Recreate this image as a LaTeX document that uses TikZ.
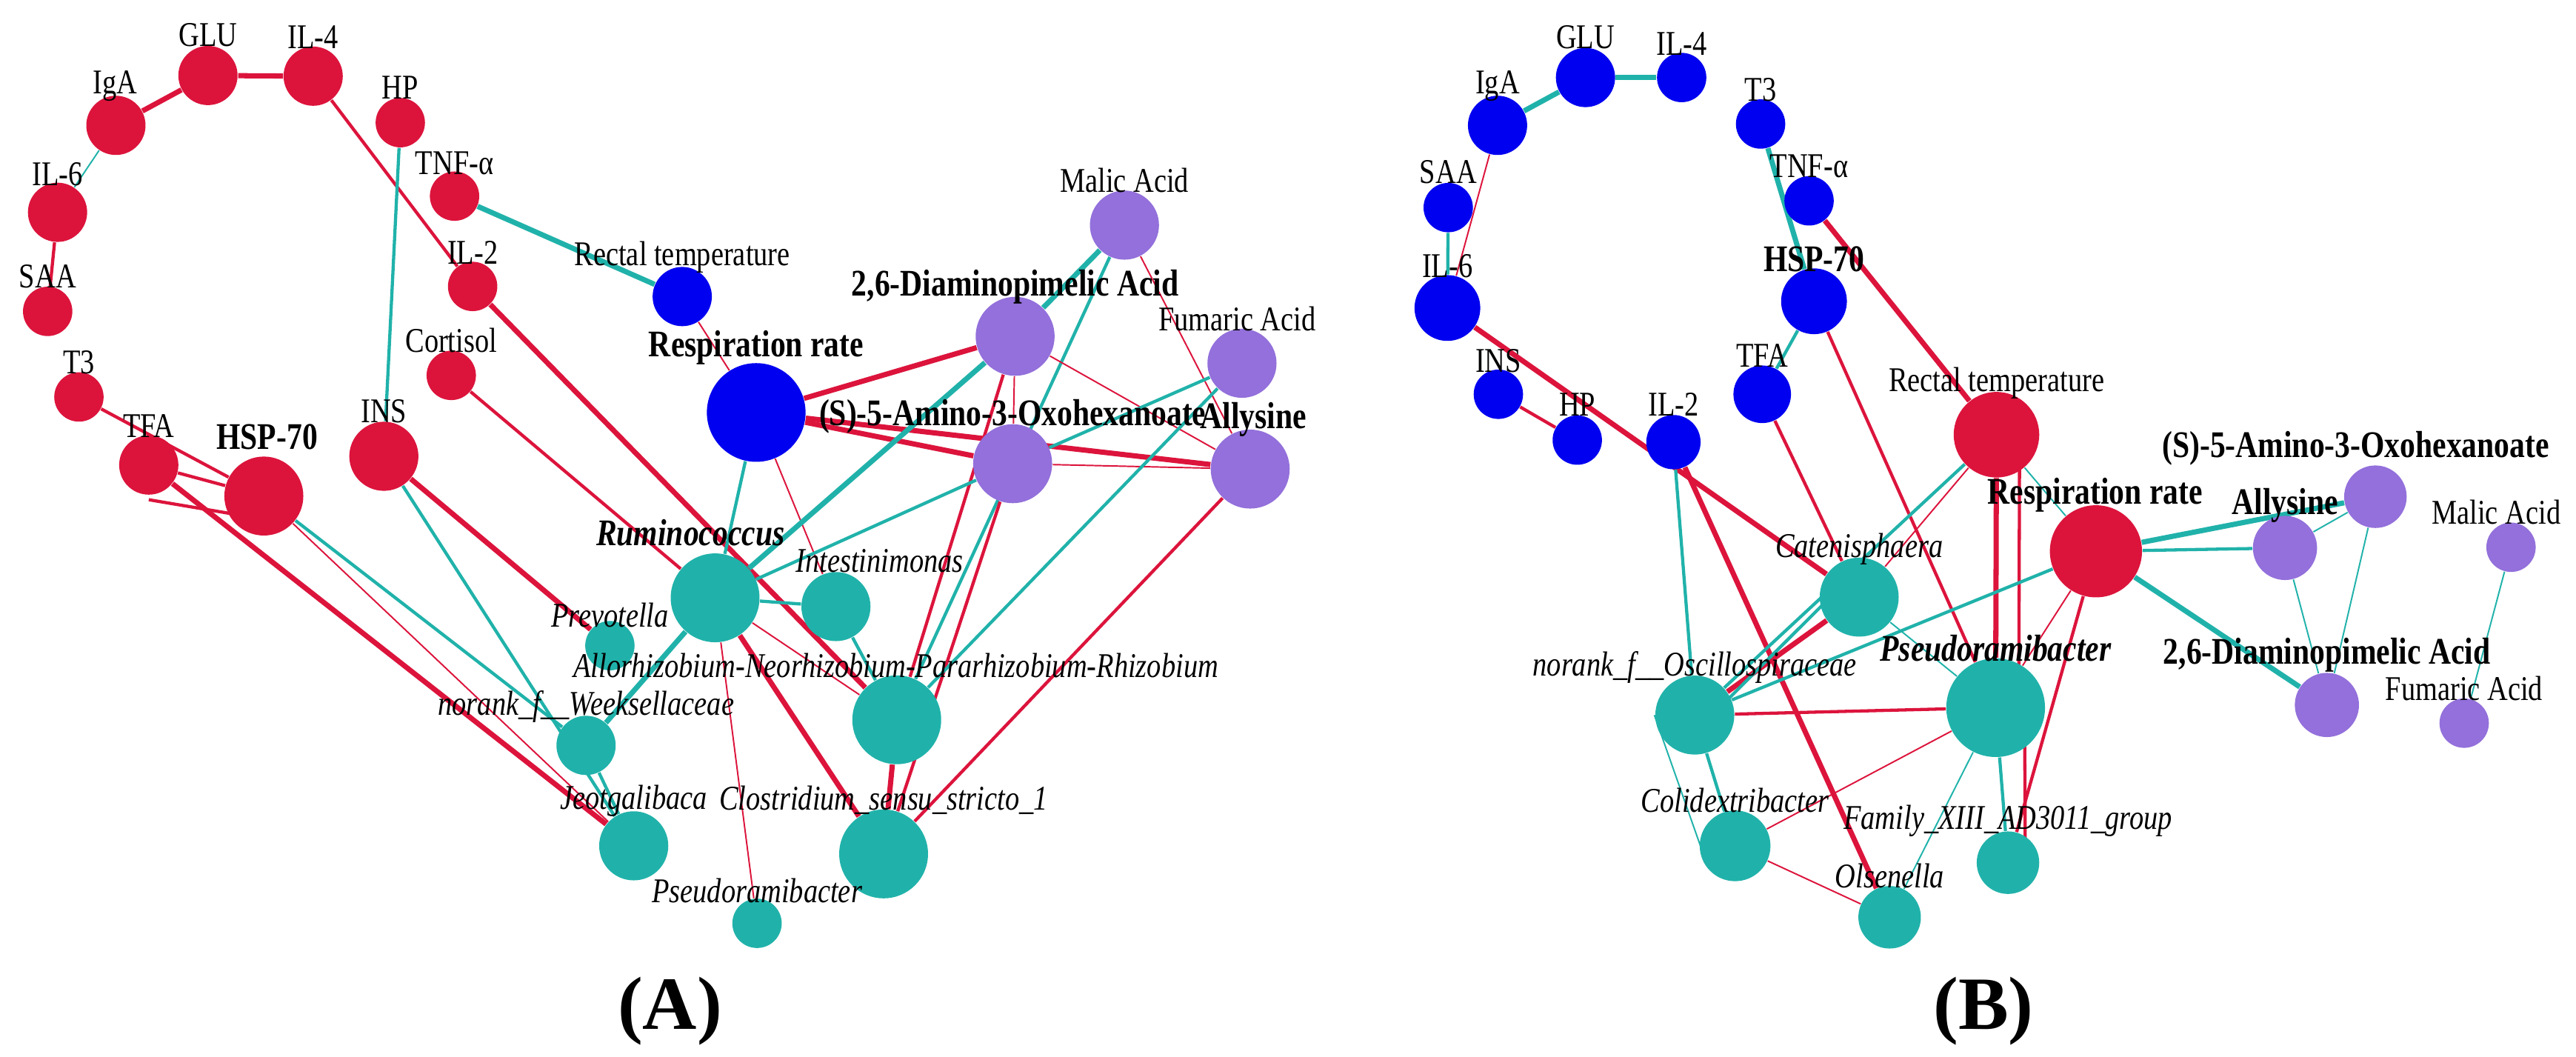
\documentclass[tikz,border=0pt]{standalone}
\usepackage{fontspec}
\setmainfont{Liberation Serif}
\usetikzlibrary{shapes.geometric,backgrounds}
\definecolor{cr}{HTML}{DC143C}
\definecolor{bl}{HTML}{0000F0}
\definecolor{tl}{HTML}{20B2AA}
\definecolor{pu}{HTML}{9370DB}
\newcommand{\sq}[1]{\scalebox{0.82}[1]{#1}}
\tikzset{
 nd/.style={circle,fill=#1,draw=none,inner sep=0pt},
 s1/.style={minimum size=0.60cm},
 s2/.style={minimum size=0.72cm},
 s3/.style={minimum size=0.84cm},
 s4/.style={minimum size=0.96cm},
 s5/.style={minimum size=1.08cm},
 s6/.style={minimum size=1.20cm},
 lb/.style={font=\fontsize{12}{14}\selectfont,inner sep=0pt},
 lbb/.style={font=\fontsize{13}{15}\selectfont\bfseries,inner sep=0pt},
 lbi/.style={font=\fontsize{12}{14}\selectfont\itshape,inner sep=0pt},
 lbbi/.style={font=\fontsize{13}{15}\selectfont\bfseries\itshape,inner sep=0pt},
 R1/.style={cr,line width=0.5pt},R2/.style={cr,line width=1.1pt},R3/.style={cr,line width=1.8pt},
 T1/.style={tl,line width=0.5pt},T2/.style={tl,line width=1.1pt},T3/.style={tl,line width=1.8pt},
}
\begin{document}
\begin{tikzpicture}[x=0.01cm,y=-0.0082cm]
\useasboundingbox (0,0) rectangle (3134,1568);
% ---------- Panel A nodes
\node[nd=cr,s2] (aGLU) at (253,112) {};
\node[nd=cr,s2] (aIL4) at (381,113) {};
\node[nd=cr,s2] (aIgA) at (141,186) {};
\node[nd=cr,s1] (aHP) at (487,182) {};
\node[nd=cr,s2] (aIL6) at (70,315) {};
\node[nd=cr,s1] (aTNF) at (553,291) {};
\node[nd=cr,s1] (aSAA) at (58,462) {};
\node[nd=cr,s1] (aIL2) at (575,425) {};
\node[nd=bl,s2] (aRT) at (830,440) {};
\node[nd=cr,s1] (aCor) at (549,557) {};
\node[nd=cr,s1] (aT3) at (96,589) {};
\node[nd=cr,s2] (aTFA) at (181,690) {};
\node[nd=cr,s4] (aHSP) at (321,736) {};
\node[nd=cr,s3] (aINS) at (467,677) {};
\node[nd=bl,s6] (aResp) at (920,612) {};
\node[nd=pu,s3] (aMal) at (1368,334) {};
\node[nd=pu,s4] (aDiam) at (1235,499) {};
\node[nd=pu,s3] (aFum) at (1511,539) {};
\node[nd=pu,s4] (aS5) at (1232,688) {};
\node[nd=pu,s4] (aAll) at (1521,696) {};
\node[nd=tl,s5] (aRum) at (870,887) {};
\node[nd=tl,s3] (aInt) at (1017,900) {};
\node[nd=tl,s1] (aPre) at (742,958) {};
\node[nd=tl,s5] (aAlo) at (1091,1068) {};
\node[nd=tl,s2] (aWee) at (713,1106) {};
\node[nd=tl,s3] (aJeo) at (771,1255) {};
\node[nd=tl,s5] (aClo) at (1075,1267) {};
\node[nd=tl,s1] (aPse) at (921,1370) {};
% labels A
\node[lb] (laGLU) at (253,52) {\sq{GLU}};
\node[lb] (laIL4) at (381,55) {\sq{IL-4}};
\node[lb] (laIgA) at (140,128) {\sq{IgA}};
\node[lb] (laHP) at (487,130) {\sq{HP}};
\node[lb] (laIL6) at (70,258) {\sq{IL-6}};
\node[lb] (laTNF) at (553,242) {\sq{TNF-α}};
\node[lb] (laSAA) at (58,410) {\sq{SAA}};
\node[lb] (laIL2) at (575,375) {\sq{IL-2}};
\node[lb] (laRT) at (830,382) {\sq{Rectal temperature}};
\node[lb] (laCor) at (549,505) {\sq{Cortisol}};
\node[lb] (laT3) at (96,538) {\sq{T3}};
\node[lb] (laTFA) at (181,632) {\sq{TFA}};
\node[lbb] (laHSP) at (325,648) {\sq{HSP-70}};
\node[lb] (laINS) at (467,610) {\sq{INS}};
\node[lbb] (laResp) at (920,516) {\sq{Respiration rate}};
\node[lb] (laMal) at (1368,268) {\sq{Malic Acid}};
\node[lbb] (laDiam) at (1235,426) {\sq{2,6-Diaminopimelic Acid}};
\node[lb] (laFum) at (1505,473) {\sq{Fumaric Acid}};
\node[lbb] (laS5) at (1232,618) {\sq{(S)-5-Amino-3-Oxohexanoate}};
\node[lbb] (laAll) at (1525,622) {\sq{Allysine}};
\node[lbbi] (laRum) at (840,790) {\sq{Ruminococcus}};
\node[lbi] (laInt) at (1070,832) {\sq{Intestinimonas}};
\node[lbi] (laPre) at (742,913) {\sq{Prevotella}};
\node[lbi] (laAlo) at (1090,988) {\sq{Allorhizobium-Neorhizobium-Pararhizobium-Rhizobium}};
\node[lbi] (laWee) at (713,1048) {\sq{norank\_f\_\_Weeksellaceae}};
\node[lbi] (laJeo) at (771,1188) {\sq{Jeotgalibaca}};
\node[lbi] (laClo) at (1075,1187) {\sq{Clostridium\_sensu\_stricto\_1}};
\node[lbi] (laPse) at (921,1322) {\sq{Pseudoramibacter}};
\begin{scope}[on background layer]
\draw[R3] (aGLU)--(aIL4); \draw[R3] (aIgA)--(aGLU); \draw[T1] (aIgA)--(aIL6);
\draw[R2] (aIL6)--(aSAA); \draw[R2] (aIL4)--(aIL2); \draw[R3] (aIL2)--(aAlo);
\draw[R2] (aCor)--(aRum); \draw[T2] (aHP)--(aINS); \draw[T3] (aTNF)--(aRT);
\draw[R1] (aRT)--(aResp);
\draw[R2] (aT3)--(aHSP); \draw[R2] (aTFA)--(aHSP); \draw[R2] ([yshift=-12]aTFA.center)--([yshift=-8]aHSP.center);
\draw[R3] (aTFA)--(aJeo); \draw[R1] (aHSP)--(aJeo); \draw[T2] (aHSP)--(aWee);
\draw[R3] (aINS)--(aPre); \draw[T2] (aINS)--(aJeo);
\draw[T2] (aResp)--(aRum); \draw[R1] (aResp)--(aInt);
\draw[R3] (aResp)--(aDiam); \draw[R3] (aResp)--(aS5); \draw[R3] (aResp)--(aAll);
\draw[T3] (aDiam)--(aRum); \draw[T2] (aMal)--(aAlo); \draw[T3] (aMal)--(aDiam);
\draw[R1] (aMal)--(aAll); \draw[R1] (aDiam)--(aS5); \draw[R1] (aDiam)--(aAll);
\draw[R2] (aDiam)--(aAlo); \draw[R2] (aS5)--(aClo); \draw[R1] (aS5)--(aAll);
\draw[T2] (aS5)--(aRum); \draw[T2] (aFum)--(aS5); \draw[T2] (aFum)--(aAlo);
\draw[R2] (aAll)--(aClo);
\draw[T2] (aRum)--(aInt); \draw[T3] (aRum)--(aWee); \draw[R1] (aRum)--(aAlo);
\draw[R3] (aRum)--(aClo); \draw[R1] (aRum)--(aPse); \draw[T2] (aInt)--(aAlo);
\draw[R3] (aAlo)--(aClo); \draw[T2] (aWee)--(aJeo);
\end{scope}
% ---------- Panel B
\begin{scope}[xshift=15.68cm]
\node[nd=bl,s2] (bGLU) at (360,115) {};
\node[nd=bl,s1] (bIL4) at (477,115) {};
\node[nd=bl,s2] (bIgA) at (253,186) {};
\node[nd=bl,s1] (bT3) at (573,184) {};
\node[nd=bl,s1] (bSAA) at (193,308) {};
\node[nd=bl,s1] (bTNF) at (632,298) {};
\node[nd=bl,minimum size=0.8cm] (bIL6) at (192,457) {};
\node[nd=bl,minimum size=0.8cm] (bHSP) at (638,447) {};
\node[nd=bl,s1] (bINS) at (254,585) {};
\node[nd=bl,minimum size=0.7cm] (bTFA) at (575,585) {};
\node[nd=bl,s1] (bHP) at (350,653) {};
\node[nd=bl,minimum size=0.66cm] (bIL2) at (467,656) {};
\node[nd=cr,minimum size=1.04cm] (bRT) at (860,645) {};
\node[nd=cr,minimum size=1.12cm] (bResp) at (981,818) {};
\node[nd=pu,minimum size=0.76cm] (bS5) at (1321,737) {};
\node[nd=pu,minimum size=0.78cm] (bAll) at (1211,813) {};
\node[nd=pu,s1] (bMal) at (1486,812) {};
\node[nd=pu,minimum size=0.78cm] (bDiam) at (1262,1046) {};
\node[nd=pu,s1] (bFum) at (1429,1073) {};
\node[nd=tl,s4] (bCat) at (693,886) {};
\node[nd=tl,s4] (bOsc) at (493,1061) {};
\node[nd=tl,s6] (bPse) at (859,1050) {};
\node[nd=tl,minimum size=0.86cm] (bCol) at (542,1255) {};
\node[nd=tl,minimum size=0.76cm] (bFam) at (874,1280) {};
\node[nd=tl,minimum size=0.76cm] (bOls) at (730,1361) {};
\node[lb] (lbGLU) at (360,55) {\sq{GLU}};
\node[lb] (lbIL4) at (477,65) {\sq{IL-4}};
\node[lb] (lbIgA) at (253,128) {\sq{IgA}};
\node[lb] (lbT3) at (573,133) {\sq{T3}};
\node[lb] (lbSAA) at (193,255) {\sq{SAA}};
\node[lb] (lbTNF) at (632,247) {\sq{TNF-α}};
\node[lb] (lbIL6) at (192,395) {\sq{IL-6}};
\node[lbb] (lbHSP) at (638,384) {\sq{HSP-70}};
\node[lb] (lbINS) at (254,535) {\sq{INS}};
\node[lb] (lbTFA) at (575,528) {\sq{TFA}};
\node[lb] (lbHP) at (350,600) {\sq{HP}};
\node[lb] (lbIL2) at (467,600) {\sq{IL-2}};
\node[lb] (lbRT) at (860,568) {\sq{Rectal temperature}};
\node[lbb] (lbResp) at (980,735) {\sq{Respiration rate}};
\node[lbb] (lbS5) at (1297,665) {\sq{(S)-5-Amino-3-Oxohexanoate}};
\node[lbb] (lbAll) at (1211,750) {\sq{Allysine}};
\node[lb] (lbMal) at (1468,760) {\sq{Malic Acid}};
\node[lbb] (lbDiam) at (1262,972) {\sq{2,6-Diaminopimelic Acid}};
\node[lb] (lbFum) at (1429,1022) {\sq{Fumaric Acid}};
\node[lbi] (lbCat) at (693,815) {\sq{Catenisphaera}};
\node[lbi] (lbOsc) at (493,990) {\sq{norank\_f\_\_Oscillospiraceae}};
\node[lbbi] (lbPse) at (859,962) {\sq{Pseudoramibacter}};
\node[lbi] (lbCol) at (542,1188) {\sq{Colidextribacter}};
\node[lbi] (lbFam) at (874,1218) {\sq{Family\_XIII\_AD3011\_group}};
\node[lbi] (lbOls) at (730,1300) {\sq{Olsenella}};
\begin{scope}[on background layer]
\draw[T3] (bIgA)--(bGLU); \draw[T3] (bGLU)--(bIL4); \draw[R1] (bIgA)--(bIL6);
\draw[T2] (bSAA)--(bIL6); \draw[T3] (bT3)--(bHSP); \draw[R3] (bTNF)--(bRT);
\draw[T2] (bHSP)--(bTFA); \draw[R2] (bHSP)--(bPse); \draw[R3] (bIL6)--(bCat);
\draw[R2] (bINS)--(bHP); \draw[T2] (bIL2)--(bOsc); \draw[R3] (bIL2)--(bOls);
\draw[R2] (bTFA)--(bCat);
\draw[T2] (bRT)--(bOsc); \draw[R1] (bRT)--(bCat);
\draw[R3] (bRT)--(bPse); \draw[R2] ([xshift=8]bRT.center)--([xshift=8]bPse.center);
\draw[T1] (bRT)--(bResp);
\draw[T2] (bResp)--(bAll); \draw[T3] (bResp)--(bS5); \draw[T3] (bResp)--(bDiam);
\draw[T2] (bResp)--(bOsc); \draw[R1] (bResp)--(bPse); \draw[R2] (bResp)--(bFam);
\draw[T1] (bAll)--(bS5); \draw[T1] (bAll)--(bDiam); \draw[T1] (bS5)--(bDiam);
\draw[T1] (bMal)--(bFum);
\draw[R3] (bCat)--(bOsc); \draw[T2] ([xshift=-10]bCat.center)--([xshift=6]bOsc.center);
\draw[T1] (bCat)--(bPse);
\draw[R2] (bOsc)--(bPse); \draw[T2] (bOsc)--(bCol); \draw[T1] ([xshift=-14]bOsc.center)--([xshift=-12]bCol.center);
\draw[R1] (bPse)--(bCol); \draw[T1] (bPse)--(bOls);
\draw[T2] (bPse)--(bFam); \draw[R2] ([xshift=10]bPse.center)--([xshift=6]bFam.center);
\draw[R1] (bCol)--(bOls);
\end{scope}
\end{scope}
\node[font=\fontsize{26}{30}\selectfont\bfseries] (capA) at (815,1500) {(A)};
\node[font=\fontsize{26}{30}\selectfont\bfseries] (capB) at (2413,1500) {(B)};
\end{tikzpicture}
\end{document}
